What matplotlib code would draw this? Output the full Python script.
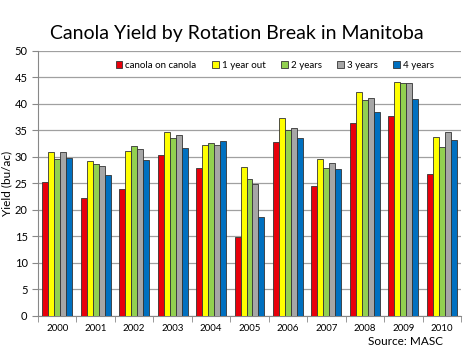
import numpy as np
import matplotlib.pyplot as plt

plt.rcParams['font.family'] = ['Lato', 'DejaVu Sans']

years = ['2000', '2001', '2002', '2003', '2004', '2005',
         '2006', '2007', '2008', '2009', '2010']
canola = [25.3, 22.3, 24.0, 30.4, 27.8, 14.8, 32.7, 24.5, 36.4, 37.6, 26.8]
yr1 = [30.8, 29.1, 31.0, 34.6, 32.2, 28.0, 37.2, 29.6, 42.2, 44.1, 33.7]
yr2 = [29.6, 28.6, 32.0, 33.5, 32.6, 25.8, 35.0, 27.9, 40.6, 43.8, 31.9]
yr3 = [30.8, 28.3, 31.5, 34.1, 32.2, 24.9, 35.4, 28.8, 41.1, 43.9, 34.7]
yr4 = [29.7, 26.6, 29.3, 31.7, 33.0, 18.7, 33.6, 27.7, 38.5, 40.9, 33.2]

series = [canola, yr1, yr2, yr3, yr4]
labels = ['canola on canola', '1 year out', '2 years', '3 years', '4 years']
colors = ['#E8000B', '#FFFF00', '#92D050', '#A6A6A6', '#0070C0']

fig = plt.figure(figsize=(4.74, 3.53), dpi=100)
ax = fig.add_axes([38/474, 37/353, 423/474, 265.5/353])

x = np.arange(len(years))
w = 0.156
for i, s in enumerate(series):
    ax.bar(x + (i - 2)*w, s, w, color=colors[i], edgecolor='#333333',
           linewidth=0.6, label=labels[i], zorder=3)

ax.set_xlim(-0.5, len(years) - 0.5)
ax.set_ylim(0, 50)
ax.set_yticks(range(0, 51, 5))
ax.set_xticks(x)
ax.set_xticklabels(years)
ax.set_xticks(np.arange(-0.5, len(years), 1), minor=True)
ax.tick_params(axis='x', which='major', length=0, labelsize=7, pad=6)
ax.tick_params(axis='x', which='minor', length=4, color='#888888')
ax.tick_params(axis='y', length=4, color='#888888', labelsize=8)
ax.grid(axis='y', color='#A0A0A0', linewidth=0.9, zorder=0)
for sp in ['top', 'right']:
    ax.spines[sp].set_visible(False)
for sp in ['left', 'bottom']:
    ax.spines[sp].set_color('#888888')
ax.set_ylabel('Yield (bu/ac)', fontsize=8.5, labelpad=2)

ax.legend(loc='upper center', ncol=5, frameon=False, fontsize=7,
          bbox_to_anchor=(0.56, 0.995), handlelength=0.7, handleheight=0.7,
          handletextpad=0.3, columnspacing=1.6)

fig.text(0.50, 0.89, 'Canola Yield by Rotation Break in Manitoba',
         ha='center', fontsize=14)
fig.text(0.935, 0.022, 'Source: MASC', ha='right', fontsize=8.5)

fig.savefig('out.png', dpi=100)
